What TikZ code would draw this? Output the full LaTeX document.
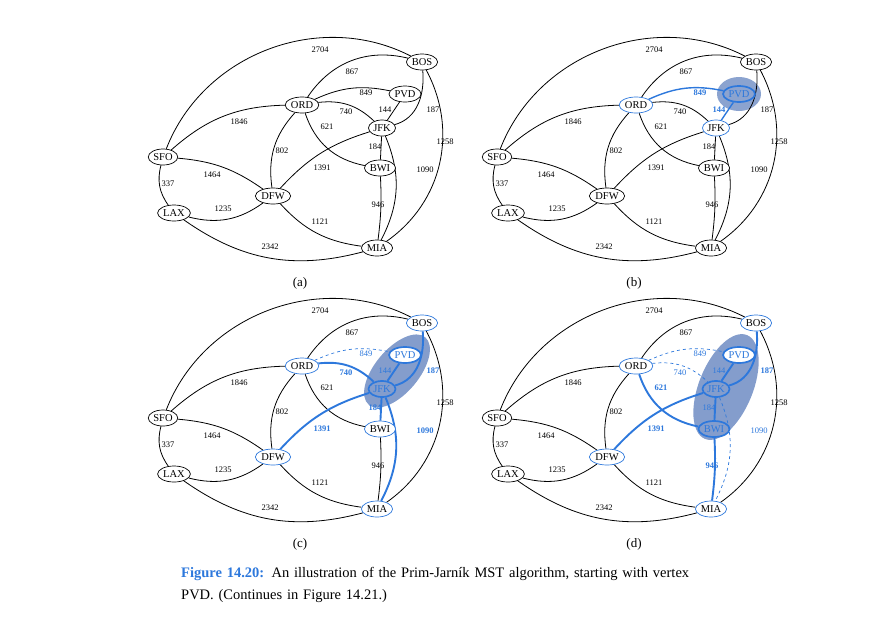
\documentclass[tikz,border=0pt]{standalone}
\usepackage{fontspec}
\setmainfont{Liberation Serif}
\definecolor{bl}{RGB}{45,120,220}
\definecolor{cl}{RGB}{110,140,195}
\tikzset{
 vtx/.style={draw,ellipse,fill=white,inner sep=0.8pt,minimum height=16pt,font=\fontsize{10.5}{10.5}\selectfont,line width=0.7pt},
 edge/.style={draw,line width=0.8pt},
 lab/.style={font=\fontsize{8.5}{8.5}\selectfont},
 vb/.style={draw=bl},
 vt/.style={draw=bl,line width=1.7pt,text=bl,fill=none},
 et/.style={draw=bl,line width=1.9pt},
 ec/.style={draw=bl,line width=1.4pt},
 ed/.style={draw=bl,dashed,line width=0.7pt},
 lt/.style={text=bl,font=\fontsize{8.5}{8.5}\selectfont\bfseries},
 ll/.style={text=bl},
 vBOS/.style={},vPVD/.style={},vORD/.style={},vJFK/.style={},vSFO/.style={},vBWI/.style={},vDFW/.style={},vLAX/.style={},vMIA/.style={},
 e2704/.style={},e867/.style={},e849/.style={},e740/.style={},e144/.style={},e187/.style={},e621/.style={},e1846/.style={},e1258/.style={},e184/.style={},e802/.style={},e1391/.style={},e1090/.style={},e1464/.style={},e337/.style={},e946/.style={},e1235/.style={},e1121/.style={},e2342/.style={},
 l2704/.style={},l867/.style={},l849/.style={},l740/.style={},l144/.style={},l187/.style={},l621/.style={},l1846/.style={},l1258/.style={},l184/.style={},l802/.style={},l1391/.style={},l1090/.style={},l1464/.style={},l337/.style={},l946/.style={},l1235/.style={},l1121/.style={},l2342/.style={},
}
\newcommand\drawgraph[1]{%
 \node[vtx,vBOS] (#1BOS) at (422,-62) {BOS};
 \node[vtx,vPVD] (#1PVD) at (405,-94) {PVD};
 \node[vtx,vORD] (#1ORD) at (302,-105) {ORD};
 \node[vtx,vJFK] (#1JFK) at (382,-128) {JFK};
 \node[vtx,vSFO] (#1SFO) at (163,-157) {SFO};
 \node[vtx,vBWI] (#1BWI) at (380,-168) {BWI};
 \node[vtx,vDFW] (#1DFW) at (273,-196) {DFW};
 \node[vtx,vLAX] (#1LAX) at (174,-213) {LAX};
 \node[vtx,vMIA] (#1MIA) at (377,-248) {MIA};
 \begin{pgfonlayer}{edges}
 \draw[edge,e2704] (#1SFO) to[bend left=48] (#1BOS);
 \draw[edge,e867] (#1ORD) to[bend left=35] (#1BOS);
 \draw[edge,e849] (#1ORD) to[bend left=18] (#1PVD);
 \draw[edge,e740] (#1ORD) to[bend left=25] (#1JFK);
 \draw[edge,e621] (#1ORD) to[bend right=30] (#1BWI);
 \draw[edge,e802] (#1ORD) to[bend right=25] (#1DFW);
 \draw[edge,e1846] (#1SFO) to[bend left=20] (#1ORD);
 \draw[edge,e144] (#1PVD) -- (#1JFK);
 \draw[edge,e187] (#1BOS) to[out=-85,in=15] (#1JFK);
 \draw[edge,e1258] (#1BOS) to[out=-62,in=35] (#1MIA);
 \draw[edge,e184] (#1JFK) -- (#1BWI);
 \draw[edge,e1391] (#1JFK) to[bend right=15] (#1DFW);
 \draw[edge,e1090] (#1JFK) to[bend left=25] (#1MIA);
 \draw[edge,e946] (#1BWI) to[bend left=5] (#1MIA);
 \draw[edge,e1464] (#1SFO) to[bend left=15] (#1DFW);
 \draw[edge,e337] (#1SFO) to[bend right=25] (#1LAX);
 \draw[edge,e1235] (#1LAX) to[bend right=25] (#1DFW);
 \draw[edge,e1121] (#1DFW) to[bend right=20] (#1MIA);
 \draw[edge,e2342] (#1LAX) to[bend right=25] (#1MIA);
 \end{pgfonlayer}
 \node[lab,l2704] (#1L2704) at (320,-50) {2704};
 \node[lab,l867] (#1L867) at (352,-72) {867};
 \node[lab,l849] (#1L849) at (366,-93) {849};
 \node[lab,l740] (#1L740) at (346,-112) {740};
 \node[lab,l144] (#1L144) at (385,-110) {144};
 \node[lab,l187] (#1L187) at (433,-110) {187};
 \node[lab,l621] (#1L621) at (327,-127) {621};
 \node[lab,l1846] (#1L1846) at (239,-122) {1846};
 \node[lab,l1258] (#1L1258) at (445,-142) {1258};
 \node[lab,l184] (#1L184) at (375,-147) {184};
 \node[lab,l802] (#1L802) at (282,-151) {802};
 \node[lab,l1391] (#1L1391) at (322,-168) {1391};
 \node[lab,l1090] (#1L1090) at (425,-170) {1090};
 \node[lab,l1464] (#1L1464) at (212,-175) {1464};
 \node[lab,l337] (#1L337) at (168,-184) {337};
 \node[lab,l946] (#1L946) at (378,-205) {946};
 \node[lab,l1235] (#1L1235) at (223,-209) {1235};
 \node[lab,l1121] (#1L1121) at (320,-222) {1121};
 \node[lab,l2342] (#1L2342) at (270,-247) {2342};
}
\pgfdeclarelayer{cloud}\pgfdeclarelayer{edges}
\pgfsetlayers{cloud,edges,main}
\usetikzlibrary{shapes.geometric}
\begin{document}
\begin{tikzpicture}[x=1pt,y=1pt]
\useasboundingbox (0,0) rectangle (885,-643);
% (a)
\begin{scope}
 \drawgraph{a}
 \node[font=\fontsize{13}{13}\selectfont] (capa) at (300,-283) {(a)};
\end{scope}
% (b)
\begin{scope}[shift={(334,0)},
 vPVD/.style={vt},vORD/.style={vb},vJFK/.style={vb},
 e849/.style={ec},e144/.style={ec},l849/.style={lt},l144/.style={lt}]
 \begin{pgfonlayer}{cloud}
 \fill[cl,opacity=0.8] (405,-94) ellipse (22 and 17);
 \end{pgfonlayer}
 \drawgraph{b}
 \node[font=\fontsize{13}{13}\selectfont] (capb) at (300,-283) {(b)};
\end{scope}
% (c)
\begin{scope}[shift={(0,-261)},
 vPVD/.style={vt,fill=white},vJFK/.style={vt},vORD/.style={vb},vBOS/.style={vb},vBWI/.style={vb},vDFW/.style={vb},vMIA/.style={vb},
 e849/.style={ed},l849/.style={ll},e144/.style={et},l144/.style={ll},
 e740/.style={et},l740/.style={lt},e187/.style={et},l187/.style={lt},
 e184/.style={et},l184/.style={lt},e1391/.style={et},l1391/.style={lt},e1090/.style={et},l1090/.style={lt}]
 \begin{pgfonlayer}{cloud}
 \fill[cl,opacity=0.85,rotate around={50:(397,-110)}] (397,-110) ellipse (44 and 22);
 \end{pgfonlayer}
 \drawgraph{c}
 \node[font=\fontsize{13}{13}\selectfont] (capc) at (300,-283) {(c)};
\end{scope}
% (d)
\begin{scope}[shift={(334,-261)},
 vPVD/.style={vt,fill=white},vJFK/.style={vt},vBWI/.style={vt},vORD/.style={vb},vBOS/.style={vb},vDFW/.style={vb},vMIA/.style={vb},
 e849/.style={ed},l849/.style={ll},e740/.style={ed},l740/.style={ll},e1090/.style={ed},l1090/.style={ll},
 e144/.style={et},l144/.style={ll},e184/.style={et},l184/.style={ll},
 e187/.style={et},l187/.style={lt},e621/.style={et},l621/.style={lt},
 e1391/.style={et},l1391/.style={lt},e946/.style={et},l946/.style={lt}]
 \begin{pgfonlayer}{cloud}
 \fill[cl,opacity=0.85,rotate around={68:(392,-126)}] (392,-126) ellipse (56 and 27);
 \end{pgfonlayer}
 \drawgraph{d}
 \node[font=\fontsize{13}{13}\selectfont] (capd) at (300,-283) {(d)};
\end{scope}
\node[anchor=north west,align=left,text width=660pt,inner sep=0pt,font=\fontsize{14.5}{22}\selectfont] (cap) at (181,-567)
 {{\color{bl}\bfseries Figure 14.20:} An illustration of the Prim-Jarník MST algorithm, starting with vertex\\PVD. (Continues in Figure 14.21.)};
\end{tikzpicture}
\end{document}
